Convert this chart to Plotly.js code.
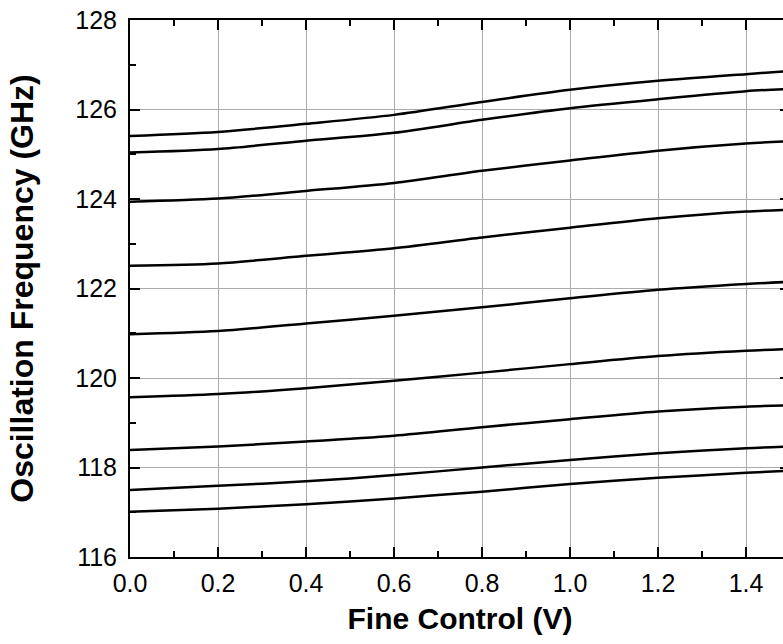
<!DOCTYPE html>
<html>
<head>
<meta charset="utf-8">
<script src="https://cdn.plot.ly/plotly-3.0.1.min.js"></script>
<style>
html,body{margin:0;padding:0;overflow:hidden;background:#fff;}
#chart{width:800px;height:644px;}
</style>
</head>
<body>
<div id="chart"></div>
<script>
// Fine control voltage (V)
const fineControl = [0.0, 0.2, 0.4, 0.6, 0.8, 1.0, 1.2, 1.4, 1.5];

// Oscillation frequency (GHz) for each coarse setting, top to bottom
const curve1 = [125.41, 125.50, 125.68, 125.88, 126.17, 126.44, 126.64, 126.79, 126.86];
const curve2 = [125.04, 125.12, 125.30, 125.48, 125.77, 126.03, 126.23, 126.41, 126.46];
const curve3 = [123.94, 124.01, 124.18, 124.36, 124.63, 124.86, 125.08, 125.24, 125.29];
const curve4 = [122.51, 122.56, 122.73, 122.90, 123.14, 123.36, 123.57, 123.72, 123.76];
const curve5 = [120.98, 121.05, 121.22, 121.39, 121.58, 121.78, 121.97, 122.10, 122.15];
const curve6 = [119.57, 119.64, 119.77, 119.94, 120.12, 120.31, 120.49, 120.61, 120.65];
const curve7 = [118.39, 118.47, 118.58, 118.71, 118.90, 119.08, 119.25, 119.36, 119.39];
const curve8 = [117.50, 117.59, 117.69, 117.83, 118.00, 118.17, 118.32, 118.43, 118.47];
const curve9 = [117.01, 117.08, 117.18, 117.31, 117.46, 117.63, 117.77, 117.88, 117.93];

const curves = [curve1, curve2, curve3, curve4, curve5, curve6, curve7, curve8, curve9];

const xTickVals = [0, 0.2, 0.4, 0.6, 0.8, 1.0, 1.2, 1.4];
const xTickText = ['0.0', '0.2', '0.4', '0.6', '0.8', '1.0', '1.2', '1.4'];
const yTickVals = [116, 118, 120, 122, 124, 126, 128];

const traces = curves.map(c => ({
  x: fineControl,
  y: c,
  type: 'scatter',
  mode: 'lines',
  line: {color: '#000', width: 2.5, shape: 'spline', smoothing: 0.8},
  showlegend: false,
  hoverinfo: 'skip'
}));

const tickFont = {family: 'Liberation Sans, Arial, sans-serif', size: 25, color: '#000'};
const xTitleFont = {family: 'Liberation Sans, Arial, sans-serif', size: 30, color: '#000', weight: 'bold'};
const yTitleFont = {family: 'Liberation Sans, Arial, sans-serif', size: 32, color: '#000', weight: 'bold'};

const layout = {
  width: 800,
  height: 644,
  margin: {l: 130, r: 10, t: 20, b: 87},
  paper_bgcolor: '#fff',
  plot_bgcolor: '#fff',
  font: tickFont,
  xaxis: {
    range: [0, 1.5],
    tickmode: 'array',
    tickvals: xTickVals,
    ticktext: xTickText,
    ticks: 'inside',
    ticklen: 10,
    tickwidth: 2,
    tickcolor: '#000',
    showline: true,
    linecolor: '#000',
    linewidth: 2,
    mirror: 'allticks',
    showgrid: true,
    gridcolor: '#ababab',
    gridwidth: 1,
    zeroline: false,
    tickfont: tickFont,
    ticklabelstandoff: 3,
    minor: {dtick: 0.1, ticks: 'inside', ticklen: 6, tickwidth: 2, tickcolor: '#000', showgrid: false},
    title: {text: '<b>Fine Control (V)</b>', font: xTitleFont, standoff: 12}
  },
  yaxis: {
    range: [116, 128],
    tickmode: 'array',
    tickvals: yTickVals,
    ticks: 'inside',
    ticklen: 10,
    tickwidth: 2,
    tickcolor: '#000',
    showline: true,
    linecolor: '#000',
    linewidth: 2,
    mirror: 'allticks',
    showgrid: true,
    gridcolor: '#ababab',
    gridwidth: 1,
    zeroline: false,
    tickfont: tickFont,
    ticklabelstandoff: 6,
    minor: {dtick: 1, ticks: 'inside', ticklen: 6, tickwidth: 2, tickcolor: '#000', showgrid: false},
    title: {text: '<b>Oscillation Frequency (GHz)</b>', font: yTitleFont, standoff: 32}
  }
};

Plotly.newPlot('chart', traces, layout, {staticPlot: true, displayModeBar: false});
</script>
</body>
</html>
